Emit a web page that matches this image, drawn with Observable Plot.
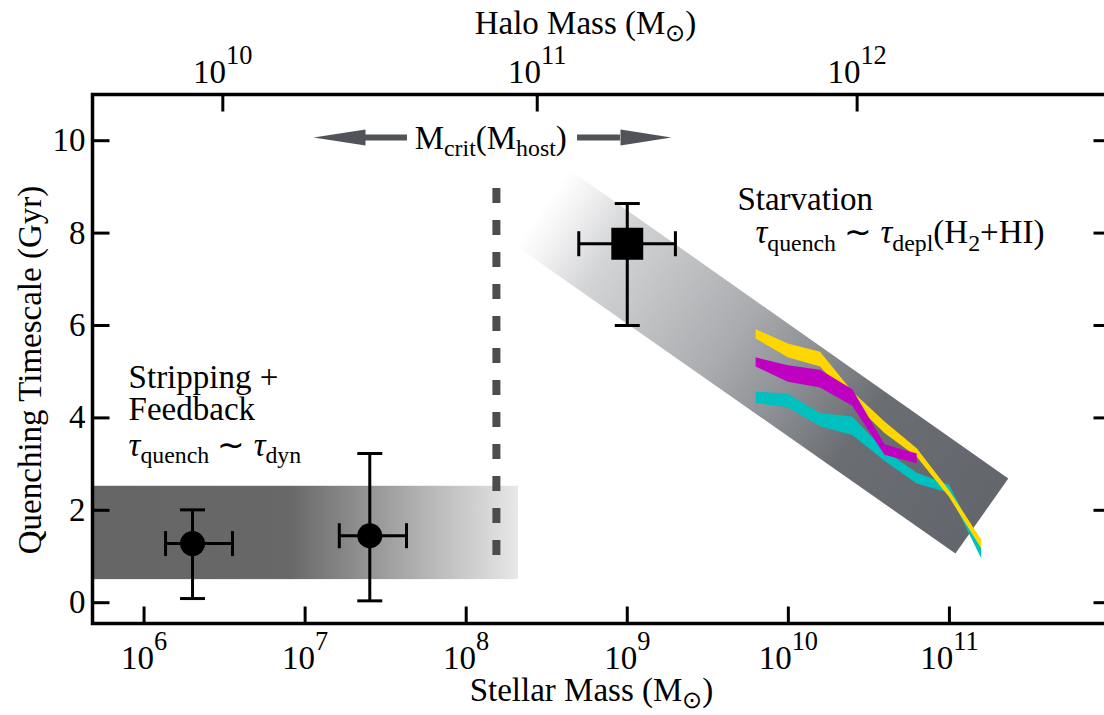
<!DOCTYPE html>
<html><head><meta charset="utf-8">
<script src="https://cdn.jsdelivr.net/npm/d3@7"></script>
<script src="https://cdn.jsdelivr.net/npm/@observablehq/plot@0.6"></script>
<style>html,body{margin:0;padding:0;background:#fff;overflow:hidden}</style>
</head><body><div id="chart"></div>
<script>
// ---------- data ----------
const xMin = 10 ** 5.68, xMax = 1e12;
const yMin = -0.45, yMax = 11;

const stellarTicks = [1e6, 1e7, 1e8, 1e9, 1e10, 1e11];
const stellarTickLabels = ["10^{6}", "10^{7}", "10^{8}", "10^{9}", "10^{10}", "10^{11}"];
const haloTickPos = [10 ** 6.489, 10 ** 8.441, 10 ** 10.427]; // stellar-mass position of halo ticks
const haloTickLabels = ["10^{10}", "10^{11}", "10^{12}"];
const tauTicks = [0, 2, 4, 6, 8, 10];

// satellite points (circles)
const satMass = [2.0e6, 2.52e7];
const satMassLo = [1.36e6, 1.63e7];
const satMassHi = [3.54e6, 4.26e7];
const satTau = [1.28, 1.45];
const satTauLo = [0.09, 0.04];
const satTauHi = [2.01, 3.23];

// square point
const sqMass = [1.0e9];
const sqMassLo = [5.0e8];
const sqMassHi = [1.99e9];
const sqTau = [7.77];
const sqTauLo = [6.0];
const sqTauHi = [8.64];

// stripping band
const stripMass = [xMin, 2.11e8];
const stripTau = [0.5, 2.52];

// starvation band corners (polygon)
const starvMass = [4.44e8, 2.32e11, 1.09e11, 2.02e8];
const starvTau = [9.355, 2.689, 1.065, 7.732];

// critical mass dashed line
const critMass = 1.54e8;
const critTau = [1.02, 9.25];

// coloured model bands
const bandMass = [6.31e9, 1.0e10, 1.585e10, 2.512e10, 3.981e10, 6.31e10, 1.0e11, 1.585e11];
const yellowHi = [5.91, 5.60, 5.42, 4.56, 3.91, 3.33, 2.43, 1.36];
const yellowLo = [5.71, 5.30, 5.10, 4.34, 3.66, 3.15, 2.28, 1.17];
const magentaHi = [5.30, 5.13, 5.03, 4.61, 3.42, 3.22];
const magentaLo = [5.10, 4.77, 4.65, 4.25, 3.19, 3.01];
const cyanHi = [4.56, 4.51, 4.09, 4.02, 3.29, 2.80, 2.54, 1.20];
const cyanLo = [4.31, 4.22, 3.81, 3.62, 3.06, 2.57, 2.37, 0.95];

// arrows around M_crit label
const arrowTau = 10.07;
const arrowHalf = 0.175;
const arrowLeft = {tip: 1.127e7, base: 2.37e7, tail: 4.32e7};
const arrowRight = {tip: 1.88e9, base: 9.08e8, tail: 4.91e8};

// annotations
const annoText = ["Starvation", "τ_{quench} ∼ τ_{depl}(H_{2}+HI)", "Stripping +", "Feedback", "τ_{quench} ∼ τ_{dyn}"];
const annoMass = [4.83e9, 6.25e9, 8.02e5, 8.02e5, 8.02e5];
const annoTau = [8.49, 7.775, 4.637, 3.944, 3.186];
const critLabel = "M_{crit}(M_{host})";
const critLabelMass = 1.42e8, critLabelTau = 9.83;

// ---------- build tables ----------
const rows = (xs, ys) => xs.map((x, i) => ({x, y: ys[i]}));
const bandRows = (hi, lo) => hi.map((h, i) => ({x: bandMass[i], hi: h, lo: lo[i]}));
const errRows = (m, ml, mh, t, tl, th) => m.map((v, i) => ({m: v, ml: ml[i], mh: mh[i], t: t[i], tl: tl[i], th: th[i]}));
const sats = errRows(satMass, satMassLo, satMassHi, satTau, satTauLo, satTauHi);
const sq = errRows(sqMass, sqMassLo, sqMassHi, sqTau, sqTauLo, sqTauHi);
const allPts = sats.concat(sq);

// custom symbols (line segments)
const seg = (fx, fy) => ({draw(ctx, size) { const l = Math.sqrt(size / Math.PI); ctx.moveTo(fx[0] * l, fy[0] * l); ctx.lineTo(fx[1] * l, fy[1] * l); }});
const tickUp = seg([0, 0], [0, -1]);
const tickDown = seg([0, 0], [0, 1]);
const tickRight = seg([0, 1], [0, 0]);
const tickLeft = seg([0, -1], [0, 0]);
const hCap = seg([-1, 1], [0, 0]);
const vCap = seg([0, 0], [-1, 1]);

const FONT = "Liberation Serif";
const FS = 33;
const T = {fontFamily: FONT, fontSize: FS, fill: "black"};

const chart = Plot.plot({
  width: 1104, height: 715,
  marginLeft: 92, marginRight: -6, marginTop: 94, marginBottom: 92,
  x: {type: "log", domain: [xMin, xMax], axis: null},
  y: {domain: [yMin, yMax], axis: null},
  style: {background: "white", color: "black"},
  marks: [
    Plot.rect([0], {x1: () => stripMass[0], x2: () => stripMass[1], y1: () => stripTau[0], y2: () => stripTau[1], fill: "url(#hband)"}),
    Plot.line(rows(starvMass, starvTau), {x: "x", y: "y", fill: "url(#dband)", stroke: "none"}),
    Plot.ruleX([critMass], {y1: critTau[0], y2: critTau[1], stroke: "#4d4d4d", strokeWidth: 8, strokeDasharray: "15,17"}),
    Plot.areaY(bandRows(cyanHi, cyanLo), {x: "x", y1: "lo", y2: "hi", fill: "#00c0c0"}),
    Plot.areaY(bandRows(yellowHi, yellowLo), {x: "x", y1: "lo", y2: "hi", fill: "#ffd700"}),
    Plot.areaY(bandRows(magentaHi, magentaLo), {x: "x", y1: "lo", y2: "hi", fill: "#c000c0"}),
    // error bars
    Plot.ruleY(allPts, {x1: "ml", x2: "mh", y: "t", stroke: "black", strokeWidth: 3}),
    Plot.ruleX(allPts, {x: "m", y1: "tl", y2: "th", stroke: "black", strokeWidth: 3}),
    Plot.dot(allPts, {x: "ml", y: "t", symbol: vCap, r: 12.5, stroke: "black", strokeWidth: 3, fill: "none"}),
    Plot.dot(allPts, {x: "mh", y: "t", symbol: vCap, r: 12.5, stroke: "black", strokeWidth: 3, fill: "none"}),
    Plot.dot(allPts, {x: "m", y: "tl", symbol: hCap, r: 12.5, stroke: "black", strokeWidth: 3, fill: "none"}),
    Plot.dot(allPts, {x: "m", y: "th", symbol: hCap, r: 12.5, stroke: "black", strokeWidth: 3, fill: "none"}),
    Plot.dot(sats, {x: "m", y: "t", r: 12.5, fill: "black", stroke: "none"}),
    Plot.dot(sq, {x: "m", y: "t", symbol: "square", r: 18, fill: "black", stroke: "none"}),
    // arrows
    Plot.ruleY([arrowTau], {x1: arrowLeft.base, x2: arrowLeft.tail, stroke: "#505459", strokeWidth: 6}),
    Plot.ruleY([arrowTau], {x1: arrowRight.tail, x2: arrowRight.base, stroke: "#505459", strokeWidth: 6}),
    Plot.line(rows([arrowLeft.tip, arrowLeft.base, arrowLeft.base], [arrowTau, arrowTau + arrowHalf, arrowTau - arrowHalf]), {x: "x", y: "y", fill: "#505459", stroke: "none"}),
    Plot.line(rows([arrowRight.tip, arrowRight.base, arrowRight.base], [arrowTau, arrowTau + arrowHalf, arrowTau - arrowHalf]), {x: "x", y: "y", fill: "#505459", stroke: "none"}),
    // annotations
    Plot.text(annoText.map((t, i) => ({t, x: annoMass[i], y: annoTau[i]})), {x: "x", y: "y", text: "t", textAnchor: "start", lineAnchor: "bottom", ...T}),
    Plot.text([critLabel], {x: () => critLabelMass, y: () => critLabelTau, text: d => d, textAnchor: "middle", lineAnchor: "bottom", ...T}),
    // ticks
    Plot.dot(stellarTicks, {x: d => d, frameAnchor: "bottom", symbol: tickUp, r: 17, stroke: "black", strokeWidth: 3, fill: "none"}),
    Plot.dot(haloTickPos, {x: d => d, frameAnchor: "top", symbol: tickDown, r: 17, stroke: "black", strokeWidth: 3, fill: "none"}),
    Plot.dot(tauTicks, {y: d => d, frameAnchor: "left", symbol: tickRight, r: 17, stroke: "black", strokeWidth: 3, fill: "none"}),
    Plot.dot(tauTicks, {y: d => d, frameAnchor: "right", symbol: tickLeft, r: 17, stroke: "black", strokeWidth: 3, fill: "none"}),
    // tick labels
    Plot.text(stellarTicks, {x: d => d, text: (d, i) => stellarTickLabels[i], frameAnchor: "bottom", textAnchor: "middle", lineAnchor: "bottom", dy: 45, ...T}),
    Plot.text(haloTickPos, {x: d => d, text: (d, i) => haloTickLabels[i], frameAnchor: "top", textAnchor: "middle", lineAnchor: "bottom", dy: -12, ...T}),
    Plot.text(tauTicks, {y: d => d, text: d => String(d), frameAnchor: "left", textAnchor: "end", lineAnchor: "middle", dx: -7, ...T}),
    // axis titles
    Plot.text(["Stellar Mass (M_{⊙})"], {text: d => d, frameAnchor: "bottom", textAnchor: "middle", lineAnchor: "bottom", dy: 77, dx: -10, ...T}),
    Plot.text(["Halo Mass (M_{⊙})"], {text: d => d, frameAnchor: "top", textAnchor: "middle", lineAnchor: "bottom", dy: -61, dx: -16, ...T}),
    Plot.text(["Quenching Timescale (Gyr)"], {text: d => d, frameAnchor: "left", rotate: -90, textAnchor: "middle", lineAnchor: "bottom", dx: -52, dy: 11, ...T}),
    Plot.frame({stroke: "black", strokeWidth: 3.5})
  ]
});

document.getElementById("chart").appendChild(chart);

const ns = "http://www.w3.org/2000/svg";

// gradients (positions from the scales)
try {
  const X = chart.scale("x"), Y = chart.scale("y");
  const px = (m, t) => [X.apply(m), Y.apply(t)];
  const lt = px(starvMass[0], starvTau[0]), rt = px(starvMass[1], starvTau[1]);
  const rb = px(starvMass[2], starvTau[2]), lb = px(starvMass[3], starvTau[3]);
  const g0 = [(lt[0] + lb[0]) / 2, (lt[1] + lb[1]) / 2];
  const g1 = [(rt[0] + rb[0]) / 2, (rt[1] + rb[1]) / 2];
  const defs = document.createElementNS(ns, "defs");
  const mk = (tag, attrs, parent) => { const e = document.createElementNS(ns, tag); for (const k in attrs) e.setAttribute(k, attrs[k]); parent.appendChild(e); return e; };
  const hg = mk("linearGradient", {id: "hband", x1: 0, y1: 0, x2: 1, y2: 0}, defs);
  [[0, "#666666"], [0.465, "#686868"], [1, "#e8e8e8"]].forEach(([o, c]) => mk("stop", {offset: o, "stop-color": c}, hg));
  const dg = mk("linearGradient", {id: "dband", gradientUnits: "userSpaceOnUse", x1: g0[0], y1: g0[1], x2: g1[0], y2: g1[1]}, defs);
  [[0, "#ffffff"], [0.05, "#f3f3f4"], [0.15, "#d3d4d6"], [0.43, "#a9abae"], [0.56, "#8e9195"], [0.72, "#6a6e73"], [1, "#63676d"]]
    .forEach(([o, c]) => mk("stop", {offset: o, "stop-color": c}, dg));
  chart.appendChild(defs);
} catch (e) {}

// rich text: subscripts, superscripts, italic tau
function richify(el) {
  const s = el.textContent;
  if (!/[_^]\{|τ/.test(s)) return;
  const fs = FS;
  const parts = [];
  let i = 0;
  while (i < s.length) {
    if ((s[i] === "_" || s[i] === "^") && s[i + 1] === "{") {
      const j = s.indexOf("}", i);
      parts.push({t: s.slice(i + 2, j), m: s[i]});
      i = j + 1;
    } else {
      let j = i;
      while (j < s.length && !((s[j] === "_" || s[j] === "^") && s[j + 1] === "{")) j++;
      parts.push({t: s.slice(i, j), m: ""});
      i = j;
    }
  }
  while (el.firstChild) el.removeChild(el.firstChild);
  let cur = 0;
  for (const p of parts) {
    const target = p.m === "_" ? fs * 0.22 : p.m === "^" ? -fs * 0.55 : 0;
    const segs = p.t.split(/(τ)/).filter(d => d.length);
    segs.forEach((sg, k) => {
      const ts = document.createElementNS(ns, "tspan");
      if (k === 0 && target !== cur) { ts.setAttribute("dy", (target - cur).toFixed(2)); cur = target; }
      if (p.m === "_") ts.setAttribute("font-size", (fs * 0.72).toFixed(1));
      if (p.m === "^") ts.setAttribute("font-size", (fs * 0.8).toFixed(1));
      if (sg === "τ") ts.setAttribute("font-style", "italic");
      ts.textContent = sg;
      el.appendChild(ts);
    });
  }
}
try { chart.querySelectorAll("text").forEach(richify); } catch (e) {}
</script></body></html>
